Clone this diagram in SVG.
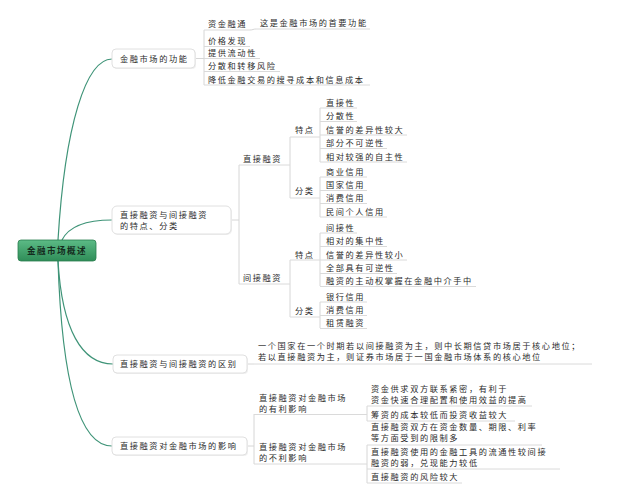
<svg xmlns="http://www.w3.org/2000/svg" width="620" height="500" viewBox="0 0 620 500">
<defs>
<linearGradient id="rootGrad" x1="0" y1="0" x2="0" y2="1">
<stop offset="0" stop-color="#5cbb86"/>
<stop offset="1" stop-color="#2f8d58"/>
</linearGradient>
</defs>
<style>
.t{font-family:"Noto Sans CJK SC","Noto Sans CJK JP",sans-serif;font-size:8.2px;letter-spacing:1.6px;fill:#2b2b2b}
.rt{font-family:"Noto Sans CJK SC","Noto Sans CJK JP",sans-serif;font-size:8.6px;letter-spacing:1.4px;fill:#142b1d;font-weight:bold}
.ul{stroke:#dadada;stroke-width:1;fill:none}
.box{fill:#ffffff;stroke:#e0e0e0;stroke-width:1}
.shadow{fill:#f0f0f0;stroke:none}
.cv{stroke:#3f9478;stroke-width:1.2;fill:none}
.ln{stroke:#d6d6d6;stroke-width:1;fill:none}
</style>
<rect width="620" height="500" fill="#ffffff"/>

<g id="connectors">
<path class="cv" d="M58,240 C65,125 86,59 112,59"/>
<path class="cv" d="M62,240 C70,224 90,220 112,220"/>
<path class="cv" d="M58,261 C62,330 82,364 113,364"/>
<path class="cv" d="M58,261 C62,385 80,446 112,446"/>
<path class="ln" d="M195,58.5 H204 M204,30 V85"/>
<path class="ln" d="M250,30 C253,30 253,29 256,29"/>
<path class="ln" d="M231,220 H239 M239,165 V284"/>
<path class="ln" d="M290,137 V198"/>
<path class="ln" d="M320,108 V162"/>
<path class="ln" d="M320,177 V217"/>
<path class="ln" d="M290,260 V317"/>
<path class="ln" d="M320,233 V286"/>
<path class="ln" d="M320,302 V328"/>
<path class="ln" d="M247,364 H254"/>
<path class="ln" d="M247,446 H254 M254,414 V464"/>
<path class="ln" d="M367,406 V421"/>
<path class="ln" d="M367,445 V483"/>
</g>

<g id="root">
<rect x="18" y="240" width="78" height="21" rx="3" fill="url(#rootGrad)" stroke="#2a7d4e" stroke-width="0.8"/>
<text class="rt" x="27" y="254">金融市场概述</text>
</g>

<g id="n-functions">
<rect class="shadow" x="113" y="50" width="83" height="19" rx="4"/>
<rect class="box" x="112" y="49" width="83" height="19" rx="4"/>
<text class="t" x="120" y="61.5">金融市场的功能</text>
</g>
<g id="n-zjrt"><text class="t" x="208" y="27">资金融通</text><path class="ul" d="M204,30 H250"/></g>
<g id="n-zjrt-note"><text class="t" x="260" y="26">这是金融市场的首要功能</text><path class="ul" d="M256,29 H370"/></g>
<g id="n-jgfx"><text class="t" x="208" y="44">价格发现</text><path class="ul" d="M204,46.5 H250"/></g>
<g id="n-tgldx"><text class="t" x="208" y="56">提供流动性</text><path class="ul" d="M204,58.5 H260"/></g>
<g id="n-fszy"><text class="t" x="208" y="69">分散和转移风险</text><path class="ul" d="M204,71.5 H280"/></g>
<g id="n-jdcb"><text class="t" x="208" y="83">降低金融交易的搜寻成本和信息成本</text><path class="ul" d="M204,85 H370"/></g>

<g id="n-features">
<rect class="shadow" x="113" y="207" width="119" height="28" rx="5"/>
<rect class="box" x="112" y="206" width="119" height="28" rx="5"/>
<text class="t" x="120" y="217.5">直接融资与间接融资</text>
<text class="t" x="120" y="228.5">的特点、分类</text>
</g>
<g id="n-direct"><text class="t" x="243" y="162">直接融资</text><path class="ul" d="M239,165 H290"/></g>
<g id="n-direct-tedian"><text class="t" x="295" y="133">特点</text><path class="ul" d="M290,137 H320"/></g>
<g id="n-d1"><text class="t" x="326" y="106">直接性</text><path class="ul" d="M320,108 H357"/></g>
<g id="n-d2"><text class="t" x="326" y="119">分散性</text><path class="ul" d="M320,121.5 H357"/></g>
<g id="n-d3"><text class="t" x="326" y="133">信誉的差异性较大</text><path class="ul" d="M320,135 H407"/></g>
<g id="n-d4"><text class="t" x="326" y="146">部分不可逆性</text><path class="ul" d="M320,148.5 H387"/></g>
<g id="n-d5"><text class="t" x="326" y="160">相对较强的自主性</text><path class="ul" d="M320,162 H407"/></g>
<g id="n-direct-fenlei"><text class="t" x="295" y="194">分类</text><path class="ul" d="M290,198 H320"/></g>
<g id="n-d6"><text class="t" x="326" y="175">商业信用</text><path class="ul" d="M320,177 H367"/></g>
<g id="n-d7"><text class="t" x="326" y="188">国家信用</text><path class="ul" d="M320,190.5 H367"/></g>
<g id="n-d8"><text class="t" x="326" y="201">消费信用</text><path class="ul" d="M320,203.5 H367"/></g>
<g id="n-d9"><text class="t" x="326" y="215">民间个人信用</text><path class="ul" d="M320,217 H387"/></g>

<g id="n-indirect"><text class="t" x="243" y="281">间接融资</text><path class="ul" d="M239,284 H290"/></g>
<g id="n-indirect-tedian"><text class="t" x="295" y="258">特点</text><path class="ul" d="M290,260 H320"/></g>
<g id="n-i1"><text class="t" x="326" y="231">间接性</text><path class="ul" d="M320,233 H357"/></g>
<g id="n-i2"><text class="t" x="326" y="244">相对的集中性</text><path class="ul" d="M320,246.5 H387"/></g>
<g id="n-i3"><text class="t" x="326" y="258">信誉的差异性较小</text><path class="ul" d="M320,260 H407"/></g>
<g id="n-i4"><text class="t" x="326" y="271">全部具有可逆性</text><path class="ul" d="M320,273.5 H397"/></g>
<g id="n-i5"><text class="t" x="326" y="284">融资的主动权掌握在金融中介手中</text><path class="ul" d="M320,286.5 H476"/></g>
<g id="n-indirect-fenlei"><text class="t" x="295" y="314">分类</text><path class="ul" d="M290,317 H320"/></g>
<g id="n-i6"><text class="t" x="326" y="300">银行信用</text><path class="ul" d="M320,302 H367"/></g>
<g id="n-i7"><text class="t" x="326" y="313">消费信用</text><path class="ul" d="M320,315.5 H367"/></g>
<g id="n-i8"><text class="t" x="326" y="326">租赁融资</text><path class="ul" d="M320,328.5 H367"/></g>

<g id="n-difference">
<rect class="shadow" x="114" y="356" width="134" height="18" rx="4"/>
<rect class="box" x="113" y="355" width="134" height="18" rx="4"/>
<text class="t" x="120" y="367">直接融资与间接融资的区别</text>
</g>
<g id="n-difference-text">
<text class="t" x="258" y="348.5">一个国家在一个时期若以间接融资为主，则中长期信贷市场居于核心地位；</text>
<text class="t" x="258" y="359.5">若以直接融资为主，则证券市场居于一国金融市场体系的核心地位</text>
<path class="ul" d="M254,364 H592"/>
</g>

<g id="n-impact">
<rect class="shadow" x="113" y="438" width="135" height="18" rx="4"/>
<rect class="box" x="112" y="437" width="135" height="18" rx="4"/>
<text class="t" x="120" y="449">直接融资对金融市场的影响</text>
</g>
<g id="n-good">
<text class="t" x="259" y="401">直接融资对金融市场</text>
<text class="t" x="259" y="412">的有利影响</text>
<path class="ul" d="M254,414.5 H367"/>
</g>
<g id="n-g1">
<text class="t" x="371" y="392">资金供求双方联系紧密，有利于</text>
<text class="t" x="371" y="403">资金快速合理配置和使用效益的提高</text>
<path class="ul" d="M367,406 H532"/>
</g>
<g id="n-g2"><text class="t" x="371" y="418">筹资的成本较低而投资收益较大</text><path class="ul" d="M367,421 H515"/></g>
<g id="n-bad">
<text class="t" x="259" y="450">直接融资对金融市场</text>
<text class="t" x="259" y="461">的不利影响</text>
<path class="ul" d="M254,464 H367"/>
</g>
<g id="n-b1">
<text class="t" x="371" y="430">直接融资双方在资金数量、期限、利率</text>
<text class="t" x="371" y="441">等方面受到的限制多</text>
<path class="ul" d="M367,445 H542"/>
</g>
<g id="n-b2">
<text class="t" x="371" y="455">直接融资使用的金融工具的流通性较间接</text>
<text class="t" x="371" y="466">融资的弱，兑现能力较低</text>
<path class="ul" d="M367,469 H560"/>
</g>
<g id="n-b3"><text class="t" x="371" y="480">直接融资的风险较大</text><path class="ul" d="M367,483 H462"/></g>
</svg>
